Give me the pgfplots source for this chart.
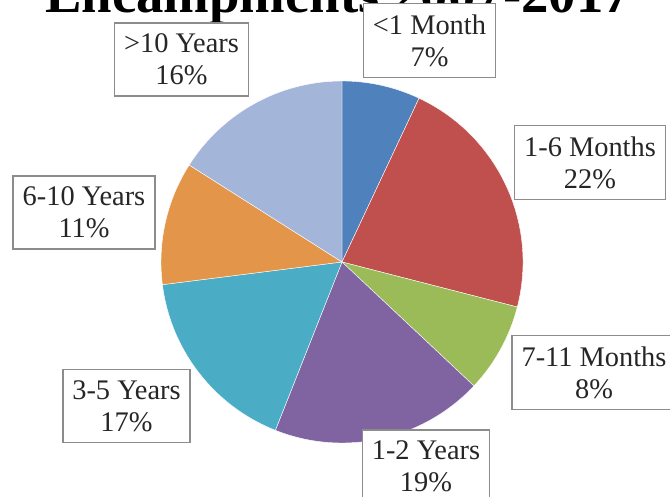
\documentclass[border=0pt]{standalone}
\usepackage{fontspec}
\setmainfont{Liberation Serif}
\usepackage{pgfplots}
\pgfplotsset{compat=1.18}
\definecolor{s1}{HTML}{4F81BD}
\definecolor{s2}{HTML}{C0504D}
\definecolor{s3}{HTML}{9BBB59}
\definecolor{s4}{HTML}{8064A2}
\definecolor{s5}{HTML}{4BACC6}
\definecolor{s6}{HTML}{E3964A}
\definecolor{s7}{HTML}{A3B5D8}
\definecolor{boxgray}{HTML}{8C8C8C}
\definecolor{txt}{HTML}{262626}
\tikzset{lbl/.style={draw=boxgray, line width=1.6bp, fill=white, align=center, text=txt,
    inner xsep=9.5bp, inner ysep=11bp, font=\fontsize{28.5}{32}\selectfont}}

\begin{document}
\begin{tikzpicture}
\useasboundingbox (0,0) rectangle (670bp,497bp);
\clip (0,0) rectangle (670bp,497bp);
\begin{axis}[
    at={(0,0)}, anchor=south west,
    scale only axis, width=670bp, height=497bp,
    xmin=0, xmax=670, ymin=0, ymax=497,
    hide axis, clip=false
]
\node[font=\bfseries\fontsize{55}{60}\selectfont, anchor=base] at (axis cs:338,484) {Encampments 2007-2017};
\pgfplotsextra{
    \gdef\cum{0}
    % value / colour
    \foreach \v/\c in {7/s1, 22/s2, 8/s3, 19/s4, 17/s5, 11/s6, 16/s7}{
        \pgfmathsetmacro\a{90-3.6*\cum}
        \pgfmathsetmacro\b{90-3.6*(\cum+\v)}
        \fill[\c, draw=white, line width=0.4bp] (axis cs:342,235) -- ++(\a:181bp)
            arc[start angle=\a, end angle=\b, radius=181bp] -- cycle;
        \pgfmathsetmacro\n{\cum+\v}
        \xdef\cum{\n}
    }
    % value / label / label x / label y
    \foreach \v/\l/\lx/\ly in {
        7/{<1 Month}/429.5/456.5,
        22/{1-6 Months}/590/334.5,
        8/{7-11 Months}/594/124.5,
        19/{1-2 Years}/426/30.5,
        17/{3-5 Years}/126.5/91,
        11/{6-10 Years}/84/284.5,
        16/{>10 Years}/181.5/437.5}{
        \node[lbl] at (axis cs:\lx,\ly) {\l\\\v\%};
    }
}
\end{axis}
\end{tikzpicture}
\end{document}
